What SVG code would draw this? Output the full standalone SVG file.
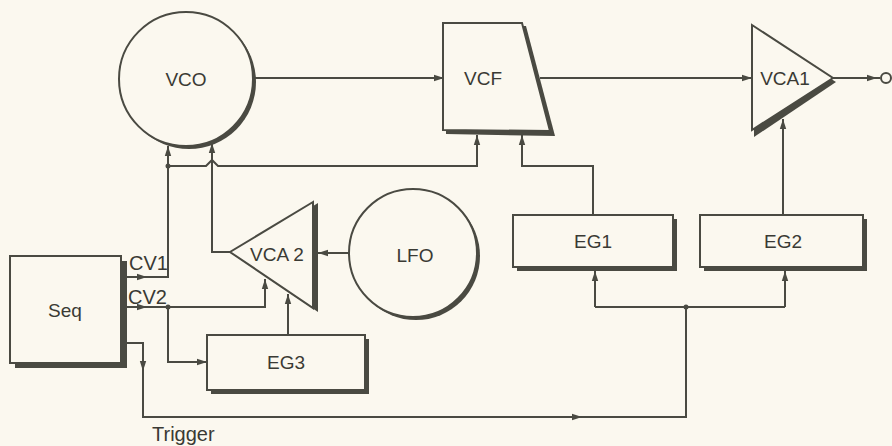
<svg xmlns="http://www.w3.org/2000/svg" width="892" height="446" viewBox="0 0 892 446">
<style>
.bg{fill:#fbf8ef}
.sh{fill:#4a4a42;stroke:none}
.nd{fill:#fbf8ef;stroke:#4a4a42;stroke-width:2}
.ln{fill:none;stroke:#4a4a42;stroke-width:2}
.t{font-family:"Liberation Sans",Arial,sans-serif;font-size:19px;fill:#3a3a34;text-anchor:middle;dominant-baseline:central}
.lb{font-family:"Liberation Sans",Arial,sans-serif;font-size:20px;fill:#3a3a34}
.dot{fill:#4a4a42}
</style>
<defs>
<marker id="a" markerUnits="userSpaceOnUse" markerWidth="11" markerHeight="8" refX="10" refY="4" orient="auto">
<path d="M0,0.8 L10,4 L0,7.2 z" fill="#4a4a42"/>
</marker>
</defs>
<rect class="bg" x="0" y="0" width="892" height="446"/>

<g id="connectors">
<path class="ln" d="M255,78 H444" marker-end="url(#a)"/>
<path class="ln" d="M540,78 H752" marker-end="url(#a)"/>
<path class="ln" d="M833,78 H880"/>
<path class="ln" d="M862,78 H877" marker-end="url(#a)"/>
<circle cx="886" cy="78" r="5" fill="#fbf8ef" stroke="#4a4a42" stroke-width="2"/>

<path class="ln" d="M125,277 H168 V146" marker-end="url(#a)"/>
<path class="ln" d="M130,277 H147" marker-end="url(#a)"/>
<circle class="dot" cx="168" cy="166" r="2.5"/>
<path class="ln" d="M168,166 H206 L212,160 L218,166 H477 V135" marker-end="url(#a)"/>

<path class="ln" d="M230,252 H212 V143" marker-end="url(#a)"/>
<path class="ln" d="M349,253 H318" marker-end="url(#a)"/>

<path class="ln" d="M125,307 H265 V279" marker-end="url(#a)"/>
<path class="ln" d="M130,307 H147" marker-end="url(#a)"/>
<circle class="dot" cx="168" cy="307" r="2.5"/>
<path class="ln" d="M168,307 V362 H207" marker-end="url(#a)"/>
<path class="ln" d="M288,335 V294" marker-end="url(#a)"/>

<path class="ln" d="M125,343 H143 V417 H686 V307"/>
<path class="ln" d="M143,356 V371" marker-end="url(#a)"/>
<path class="ln" d="M566,417 H582" marker-end="url(#a)"/>
<circle class="dot" cx="686" cy="307" r="2.5"/>
<path class="ln" d="M595,307 H785"/>
<path class="ln" d="M595,307 V271" marker-end="url(#a)"/>
<path class="ln" d="M785,307 V271" marker-end="url(#a)"/>

<path class="ln" d="M593,215 V166 H522 V135" marker-end="url(#a)"/>
<path class="ln" d="M783,215 V119" marker-end="url(#a)"/>
</g>

<g id="vco">
<circle class="sh" cx="189" cy="82" r="67"/>
<circle class="nd" cx="186" cy="79" r="67"/>
<text class="t" x="186" y="79">VCO</text>
</g>

<g id="vcf">
<polygon class="sh" points="446,26 526,26 555,136 446,134"/>
<polygon class="nd" points="443,23 522,23 550,131 443,130"/>
<text class="t" x="483" y="78">VCF</text>
</g>

<g id="vca1">
<polygon class="sh" points="754,31 836,82 754,137"/>
<polygon class="nd" points="752,25 833,78 752,130"/>
<text class="t" x="785" y="78">VCA1</text>
</g>

<g id="vca2">
<polygon class="sh" points="318,203 234,255 318,312"/>
<polygon class="nd" points="313,202 230,252 313,308"/>
<text class="t" x="277" y="254">VCA 2</text>
</g>

<g id="lfo">
<circle class="sh" cx="416" cy="256" r="64"/>
<circle class="nd" cx="413" cy="253" r="64"/>
<text class="t" x="415" y="255">LFO</text>
</g>

<g id="seq">
<rect class="sh" x="15" y="261" width="112" height="107"/>
<rect class="nd" x="10" y="256" width="111" height="107"/>
<text class="t" x="65" y="310">Seq</text>
<text class="lb" x="129" y="270">CV1</text>
<text class="lb" x="128" y="304">CV2</text>
<text class="lb" x="152" y="441">Trigger</text>
</g>

<g id="eg1">
<rect class="sh" x="517" y="219" width="160" height="52"/>
<rect class="nd" x="513" y="215" width="160" height="52"/>
<text class="t" x="593" y="241">EG1</text>
</g>

<g id="eg2">
<rect class="sh" x="704" y="219" width="163" height="52"/>
<rect class="nd" x="700" y="215" width="163" height="52"/>
<text class="t" x="783" y="241">EG2</text>
</g>

<g id="eg3">
<rect class="sh" x="211" y="339" width="158" height="55"/>
<rect class="nd" x="207" y="335" width="158" height="55"/>
<text class="t" x="286" y="362">EG3</text>
</g>
</svg>
